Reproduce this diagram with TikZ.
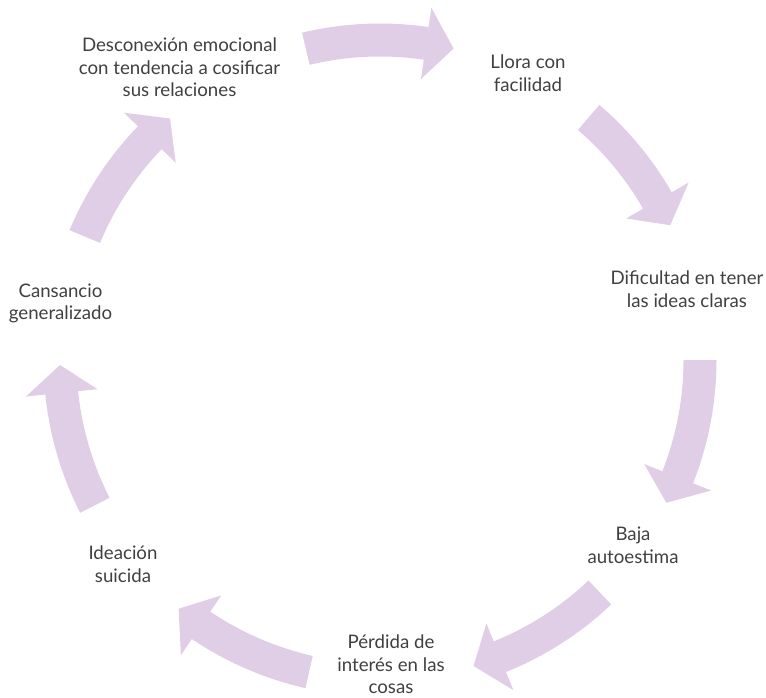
\documentclass[tikz,border=0pt]{standalone}
\usepackage{fontspec}
\setmainfont{Lato}
\definecolor{lilac}{HTML}{DFCEE6}
\definecolor{labelgray}{HTML}{404040}
% Ring geometry (origin at the centre of the cycle)
\def\Rc{320}      % centre line of the arrow bodies
\def\Ro{336.5}    % outer edge of a body
\def\Ri{303.5}    % inner edge of a body
\def\Rwo{356}     % outer tip of the arrowhead wings
\def\Rwi{284}     % inner tip of the arrowhead wings
\def\Hd{5}        % angular length of an arrowhead
% curved block arrow running clockwise from angle #2 (tail) to angle #3 (tip)
\newcommand\cyclearrow[3]{%
  \pgfmathsetmacro\hb{#3+\Hd}%
  \fill[lilac] (#2:\Ro) arc[start angle=#2, end angle=\hb, radius=\Ro]
    -- (\hb:\Rwo) -- (#3:\Rc) -- (\hb:\Rwi) -- (\hb:\Ri)
    arc[start angle=\hb, end angle=#2, radius=\Ri] -- cycle;
  \coordinate (#1) at (#3:\Rc);}
\tikzset{
  stage/.style={align=center, text=labelgray, font=\fontsize{14}{17}\selectfont, inner sep=0pt}
}
\begin{document}
\begin{tikzpicture}[x=0.75pt, y=0.75pt]
  \useasboundingbox (-380,-337) rectangle (386,360);
  % arrows of the cycle
  \cyclearrow{a1}{103.4}{76.7}
  \cyclearrow{a2}{49.3}{24.9}
  \cyclearrow{a3}{0}{-26.5}
  \cyclearrow{a4}{-46.6}{-73}
  \cyclearrow{a5}{-102.8}{-129}
  \cyclearrow{a6}{-153}{-179.1}
  \cyclearrow{a7}{157.3}{131}
  % stages
  \node[stage] (desconexion) at (-200.5,292.5) {Desconexión emocional\\con tendencia a cosificar\\sus relaciones};
  \node[stage] (llora) at (148,286.5) {Llora con\\facilidad};
  \node[stage] (dificultad) at (307,71) {Dificultad en tener\\las ideas claras};
  \node[stage] (baja) at (253,-185) {Baja\\autoestima};
  \node[stage] (perdida) at (11,-304.5) {Pérdida de\\interés en las\\cosas};
  \node[stage] (ideacion) at (-257,-204) {Ideación\\suicida};
  \node[stage] (cansancio) at (-319.5,56.5) {Cansancio\\generalizado};
\end{tikzpicture}
\end{document}
